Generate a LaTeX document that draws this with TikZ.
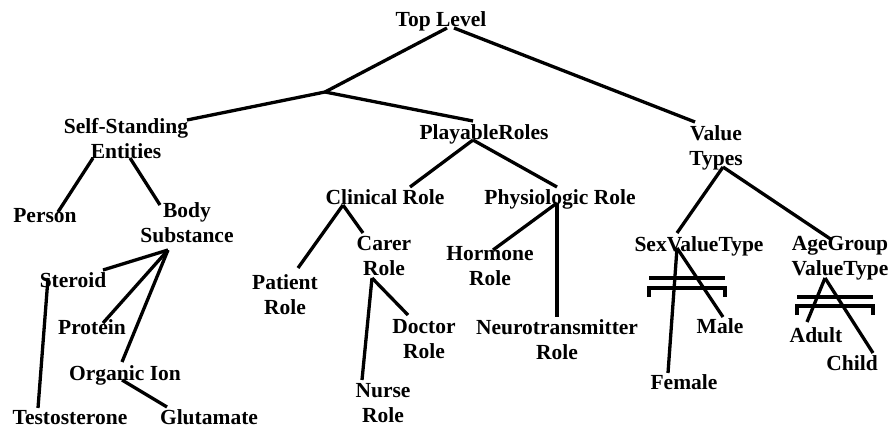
\documentclass[tikz,border=0pt]{standalone}
\usepackage{fontspec}
\setmainfont{Liberation Serif}
\usepackage{tikz}
\usetikzlibrary{positioning,calc}
\tikzstyle{concept} = [inner sep=0pt, font=\bfseries\fontsize{21.5}{25}\selectfont]
\tikzstyle{leaf} = [concept, anchor=base]
\tikzstyle{pair} = [concept, anchor=north, align=center]
\tikzstyle{link} = [line width=3.3pt]

\begin{document}
\begin{tikzpicture}[x=1pt,y=-1pt]
\useasboundingbox (0,0) rectangle (890,428);

% upper levels
\node[leaf] (top) at (441,27) {Top Level};
\coordinate (fork) at (325,92);
\node[pair] (self) at (126,118) {Self-Standing\\Entities};
\node[leaf] (playable) at (484,139) {PlayableRoles};
\node[pair] (value) at (716,125) {Value\\Types};

% self-standing entities
\node[leaf] (person) at (45,222) {Person};
\node[pair] (body) at (187,202) {Body\\Substance};
\node[leaf] (steroid) at (73,287) {Steroid};
\node[leaf] (protein) at (92,334) {Protein};
\node[leaf] (ion) at (125,380) {Organic Ion};
\node[leaf] (testo) at (70,424) {Testosterone};
\node[leaf] (glut) at (209,424) {Glutamate};

% roles
\node[leaf] (clinical) at (385,204) {Clinical Role};
\node[leaf] (physio) at (560,204) {Physiologic Role};
\node[pair] (patient) at (285,274) {Patient\\Role};
\node[pair] (carer) at (384,236) {Carer\\Role};
\node[pair] (doctor) at (424,319) {Doctor\\Role};
\node[pair] (nurse) at (383,383) {Nurse\\Role};
\node[pair] (hormone) at (490,246) {Hormone\\Role};
\node[pair] (neuro) at (557,319) {Neurotransmitter\\Role};

% value types
\node[leaf] (sex) at (699,251) {SexValueType};
\node[pair] (age) at (840,236) {AgeGroup\\ValueType};
\node[leaf] (male) at (720,333) {Male};
\node[leaf] (female) at (684,389) {Female};
\node[leaf] (adult) at (816,342) {Adult};
\node[leaf] (child) at (852,370) {Child};

\draw[link] ([shift={(6,1)}]top.base) -- (fork);
\draw[link] ([shift={(13,1)}]top.base) -- ([shift={(-21,-3)}]value.north);
\draw[link] (fork) -- ([shift={(61,2)}]self.north);
\draw[link] (fork) -- ([shift={(-11,-18)}]playable.base);

\draw[link] ([shift={(-33,40)}]self.north) -- ([shift={(13,-10)}]person.base);
\draw[link] ([shift={(4,40)}]self.north) -- ([shift={(-27,3)}]body.north);
\draw[link] ([shift={(-19,48)}]body.north) -- ([shift={(30,-17)}]steroid.base);
\draw[link] ([shift={(-19,48)}]body.north) -- ([shift={(11,-11)}]protein.base);
\draw[link] ([shift={(-19,48)}]body.north) -- ([shift={(-3,-18)}]ion.base);
\draw[link] ([shift={(-25,-9)}]steroid.base) -- ([shift={(-32,-16)}]testo.base);
\draw[link] ([shift={(-3,0)}]ion.base) -- ([shift={(-42,-17)}]glut.base);

\draw[link] ([shift={(-11,1)}]playable.base) -- ([shift={(25,-17)}]clinical.base);
\draw[link] ([shift={(-11,1)}]playable.base) -- ([shift={(-3,-17)}]physio.base);
\draw[link] ([shift={(-42,1)}]clinical.base) -- ([shift={(13,-6)}]patient.north);
\draw[link] ([shift={(-42,1)}]clinical.base) -- ([shift={(-21,-3)}]carer.north);
\draw[link] ([shift={(-12,42)}]carer.north) -- ([shift={(-16,-4)}]doctor.north);
\draw[link] ([shift={(-12,42)}]carer.north) -- ([shift={(-21,-3)}]nurse.north);
\draw[link] ([shift={(-3,-1)}]physio.base) -- ([shift={(3,4)}]hormone.north);
\draw[link] ([shift={(-3,-1)}]physio.base) -- ([shift={(0,-2)}]neuro.north);

\draw[link] ([shift={(7,42)}]value.north) -- ([shift={(-22,-18)}]sex.base);
\draw[link] ([shift={(7,42)}]value.north) -- ([shift={(-8,4)}]age.north);
\draw[link] ([shift={(-22,-3)}]sex.base) -- ([shift={(-16,-16)}]female.base);
\draw[link] ([shift={(-22,-3)}]sex.base) -- ([shift={(3,-16)}]male.base);
\draw[link] ([shift={(-15,42)}]age.north) -- ([shift={(-9,-20)}]adult.base);
\draw[link] ([shift={(-15,42)}]age.north) -- ([shift={(21,-17)}]child.base);

% disjoint marks
\draw[link] ([shift={(-50,27)}]sex.base) -- ++(76,0);
\draw[link] ([shift={(-50,46)}]sex.base) -- ++(0,-9) -- ++(76,0) -- ++(0,9);
\draw[link] ([shift={(-43,61)}]age.north) -- ++(76,0);
\draw[link] ([shift={(-43,79)}]age.north) -- ++(0,-9) -- ++(76,0) -- ++(0,9);
\end{tikzpicture}
\end{document}
